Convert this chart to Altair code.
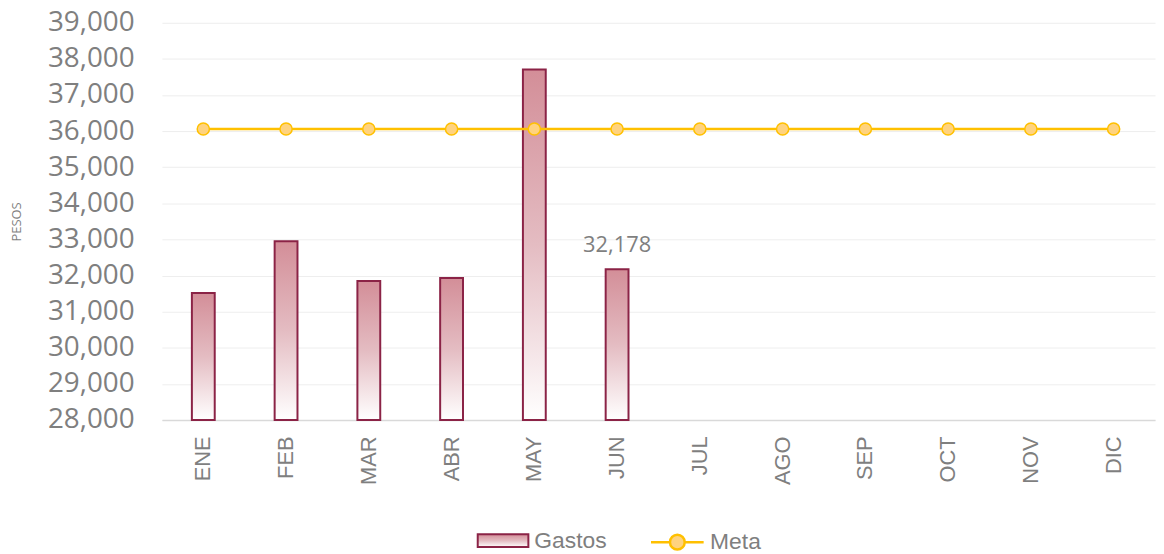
import altair as alt
import pandas as pd

meses = ["ENE", "FEB", "MAR", "ABR", "MAY", "JUN", "JUL", "AGO", "SEP", "OCT", "NOV", "DIC"]
gastos = [31520, 32950, 31850, 31930, 37710, 32178, None, None, None, None, None, None]
meta = [36060] * 12
y_ticks = [28000, 29000, 30000, 31000, 32000, 33000, 34000, 35000, 36000, 37000, 38000, 39000]

df = pd.DataFrame({"mes": meses, "gastos": gastos, "meta": meta})
df["serie_g"] = "Gastos"
df["serie_m"] = "Meta"

GRAY = "#7f7f7f"
x_axis = alt.Axis(labelAngle=-90, labelFont="Liberation Sans", labelFontSize=22,
                  labelColor=GRAY, labelPadding=16, ticks=False,
                  domainColor="#d9d9d9", domainWidth=1.5, grid=False)
x_scale = alt.Scale(paddingInner=0, paddingOuter=0)
y_axis = alt.Axis(values=y_ticks, format=",.0f", labelFont="Open Sans", labelFontSize=28,
                  labelColor=GRAY, labelPadding=28, ticks=False, domain=False,
                  gridColor="#eeeeee", gridWidth=1,
                  titleFont="Open Sans", titleFontSize=13, titleFontWeight="normal",
                  titleColor=GRAY, titleX=-139, titleY=200)
y_scale = alt.Scale(domain=[28000, 39000], zero=False, nice=False)


def xe():
    return alt.X("mes:N", sort=meses, title=None, scale=x_scale, axis=x_axis)


def ye(field):
    return alt.Y(field, scale=y_scale, title="PESOS", axis=y_axis)


base = alt.Chart(df)

grad = alt.Gradient(
    gradient="linear", x1=0, x2=0, y1=0, y2=1,
    stops=[alt.GradientStop(color="#D38E98", offset=0),
           alt.GradientStop(color="#E4BCC2", offset=0.5),
           alt.GradientStop(color="#FFFFFF", offset=1)],
)

bars = base.transform_filter("isValid(datum.gastos)").mark_bar(
    size=23, fill=grad, strokeWidth=2
).encode(
    x=xe(),
    y=ye("gastos:Q"),
    y2=alt.datum(28000),
    stroke=alt.Stroke("serie_g:N", scale=alt.Scale(domain=["Gastos"], range=["#8B2346"]),
                      legend=alt.Legend(title=None, orient="none", legendX=317, legendY=495,
                                        symbolType="M-1,-0.25H1V0.25H-1Z", symbolSize=2601,
                                        symbolFillColor="#E2B3BA", symbolStrokeWidth=2,
                                        labelFont="Liberation Sans", labelFontSize=23,
                                        labelColor=GRAY, labelOffset=5, padding=0)),
)

label = base.transform_filter("datum.mes == 'JUN'").mark_text(
    font="Open Sans", fontSize=22, color=GRAY, baseline="bottom", dy=-12
).encode(
    x=xe(),
    y=ye("gastos:Q"),
    text=alt.Text("gastos:Q", format=","),
)

line = base.mark_line(
    strokeWidth=2.5,
    point=alt.OverlayMarkDef(filled=True, fill="#FFD37F", size=150, strokeWidth=1.5),
).encode(
    x=xe(),
    y=ye("meta:Q"),
    stroke=alt.Stroke("serie_m:N", scale=alt.Scale(domain=["Meta"], range=["#FFC000"]),
                      legend=alt.Legend(title=None, orient="none", legendX=491, legendY=495,
                                        symbolType="M-1,0H-0.28M0.28,0H1M-0.28,0A0.28,0.28,0,1,1,0.28,0A0.28,0.28,0,1,1,-0.28,0Z",
                                        symbolSize=2809, symbolFillColor="#FFD37F",
                                        symbolStrokeWidth=2.5,
                                        labelFont="Liberation Sans", labelFontSize=23,
                                        labelColor=GRAY, labelOffset=5, padding=0)),
)

chart = alt.layer(bars, label, line).resolve_scale(stroke="independent").properties(
    width=1000, height=400,
    autosize=alt.AutoSizeParams(type="none"),
    padding={"left": 155, "top": 13, "right": 1, "bottom": 135},
).configure_view(strokeWidth=0)

chart.save("out.html", embed_options={"renderer": "svg", "actions": False})
